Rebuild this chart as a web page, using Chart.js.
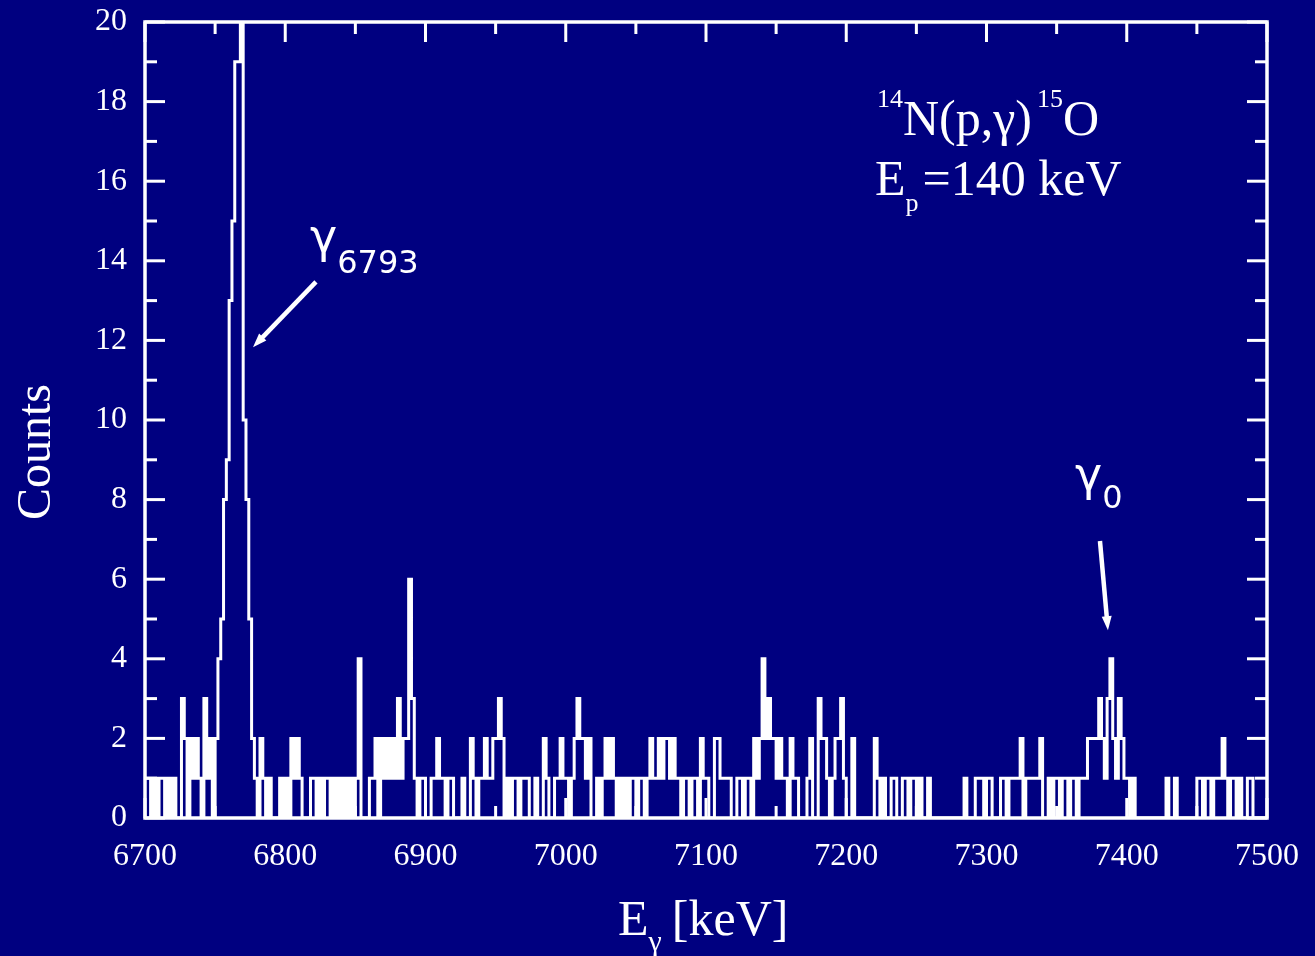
<!DOCTYPE html>
<html lang="en">
<head>
<meta charset="UTF-8">
<title>14N(p,γ)15O spectrum</title>
<script src="https://cdn.jsdelivr.net/npm/chart.js@4.4.0/dist/chart.umd.min.js"></script>
<style>
  html, body { margin: 0; padding: 0; background: #000080; }
  #wrap { width: 1315px; height: 956px; }
</style>
</head>
<body>
<div id="wrap"><canvas id="spectrum"></canvas></div>
<script>
// spectrum: 2 keV channels starting at 6700 keV
const binStart = 6700;
const binWidth = 2;
const counts = [
  1,1,0,1,0,1,1,0,1,0,    // 6700
  1,0,0,3,2,0,2,1,2,1,    // 6720
  0,3,1,2,0,2,4,5,8,9,    // 6740
  13,15,19,19,24,10,8,5,2,1, // 6760
  0,2,1,0,1,0,0,0,1,0,    // 6780
  1,0,2,1,2,1,0,0,0,1,    // 6800
  1,0,1,0,1,1,0,1,0,1,    // 6820
  0,1,0,1,0,1,4,0,0,0,    // 6840
  1,1,2,0,2,1,2,1,2,1,    // 6860
  3,1,2,2,6,3,1,0,1,1,    // 6880
  0,0,1,1,2,1,1,0,1,1,    // 6900
  0,0,0,1,0,0,2,1,0,1,    // 6920
  1,2,1,1,2,2,3,2,0,1,    // 6940
  0,1,1,0,1,1,1,0,0,1,    // 6960
  0,0,2,1,0,0,1,1,2,1,    // 6980
  1,0,1,2,3,2,2,1,2,0,    // 7000
  0,1,0,1,2,1,2,1,0,1,    // 7020
  0,1,0,1,1,0,1,1,0,1,    // 7040
  2,1,1,2,1,2,2,1,2,1,    // 7060
  1,0,1,1,0,1,1,0,2,1,    // 7080
  1,0,0,2,2,1,1,1,1,0,    // 7100
  0,1,1,0,1,1,0,2,1,2,    // 7120
  4,2,3,2,2,1,2,1,1,0,    // 7140
  2,1,1,0,0,0,1,2,0,0,    // 7160
  3,2,2,1,0,1,2,2,3,1,    // 7180
  0,0,2,0,0,0,0,0,0,0,    // 7200
  2,1,0,1,0,0,1,1,0,0,    // 7220
  1,1,0,1,1,0,1,0,0,1,    // 7240
  0,0,0,0,0,0,0,0,0,0,    // 7260
  0,0,1,0,0,0,1,1,1,0,    // 7280
  1,1,0,0,0,1,1,0,1,1,    // 7300
  1,1,2,0,1,1,1,1,1,2,    // 7320
  0,0,1,0,1,1,0,1,1,0,    // 7340
  1,1,0,1,1,1,2,2,2,2,    // 7360
  3,2,1,3,4,2,1,3,2,1,    // 7380
  1,0,1,0,0,0,0,0,0,0,    // 7400
  0,0,0,0,1,0,0,1,0,0,    // 7420
  0,0,0,0,0,1,1,0,1,1,    // 7440
  0,1,1,1,2,1,0,1,1,0,    // 7460
  1,0,0,1,1,0,0,0,0,0     // 7480
];
const energyTicks = [6700, 6800, 6900, 7000, 7100, 7200, 7300, 7400, 7500];
const energyMinor = [6750, 6850, 6950, 7050, 7150, 7250, 7350, 7450];
const countTicks = [0, 2, 4, 6, 8, 10, 12, 14, 16, 18, 20];
const countMinor = [1, 3, 5, 7, 9, 11, 13, 15, 17, 19];

const points = counts.map((c, i) => ({ x: binStart + i * binWidth, y: c }));
points.push({ x: binStart + counts.length * binWidth, y: counts[counts.length - 1] });

const navy = '#000080';
const serif = '"Liberation Serif", "Times New Roman", serif';
const sans = '"DejaVu Sans", Verdana, sans-serif';

function rich(ctx, x, y, parts) {
  let cx = x;
  parts.forEach(p => {
    ctx.font = p.font;
    ctx.fillText(p.t, cx, y + (p.dy || 0));
    cx += ctx.measureText(p.t).width + (p.gap || 0);
  });
}

function arrow(ctx, x1, y1, x2, y2) {
  const ang = Math.atan2(y2 - y1, x2 - x1);
  const head = 14, half = 5;
  ctx.lineWidth = 4.5;
  ctx.beginPath();
  ctx.moveTo(x1, y1);
  ctx.lineTo(x2 - Math.cos(ang) * head * 0.7, y2 - Math.sin(ang) * head * 0.7);
  ctx.stroke();
  ctx.beginPath();
  ctx.moveTo(x2, y2);
  ctx.lineTo(x2 - Math.cos(ang) * head + Math.sin(ang) * half, y2 - Math.sin(ang) * head - Math.cos(ang) * half);
  ctx.lineTo(x2 - Math.cos(ang) * head - Math.sin(ang) * half, y2 - Math.sin(ang) * head + Math.cos(ang) * half);
  ctx.closePath();
  ctx.fill();
}

const decor = {
  id: 'decor',
  beforeDraw(chart) {
    const ctx = chart.ctx;
    ctx.save();
    ctx.fillStyle = navy;
    ctx.fillRect(0, 0, chart.width, chart.height);
    ctx.restore();
  },
  afterDatasetsDraw(chart) {
    const { ctx, chartArea: a, scales: { x, y } } = chart;
    ctx.save();
    ctx.strokeStyle = '#fff';
    ctx.lineWidth = 3;
    const seg = (x1, y1, x2, y2) => { ctx.beginPath(); ctx.moveTo(x1, y1); ctx.lineTo(x2, y2); ctx.stroke(); };
    countTicks.forEach(v => { const p = y.getPixelForValue(v); seg(a.left, p, a.left + 20, p); seg(a.right, p, a.right - 20, p); });
    countMinor.forEach(v => { const p = y.getPixelForValue(v); seg(a.left, p, a.left + 12, p); seg(a.right, p, a.right - 12, p); });
    energyTicks.forEach(v => { const p = x.getPixelForValue(v); seg(p, a.top, p, a.top + 20); seg(p, a.bottom, p, a.bottom - 20); });
    energyMinor.forEach(v => { const p = x.getPixelForValue(v); seg(p, a.top, p, a.top + 12); seg(p, a.bottom, p, a.bottom - 12); });
    ctx.lineWidth = 3.5;
    ctx.strokeRect(a.left, a.top, a.right - a.left, a.bottom - a.top);
    ctx.restore();
  },
  afterDraw(chart) {
    const { ctx, scales: { x, y } } = chart;
    ctx.save();
    ctx.fillStyle = '#fff';
    ctx.strokeStyle = '#fff';
    ctx.textBaseline = 'alphabetic';
    ctx.textAlign = 'left';

    // reaction label
    rich(ctx, x.getPixelForValue(7221.9), y.getPixelForValue(17.16), [
      { t: '14', font: '26px ' + serif, dy: -28 },
      { t: 'N(p,γ)', font: '50px ' + serif, gap: 5 },
      { t: '15', font: '26px ' + serif, dy: -28 },
      { t: 'O', font: '50px ' + serif }
    ]);
    rich(ctx, x.getPixelForValue(7220.5), y.getPixelForValue(15.65), [
      { t: 'E', font: '50px ' + serif },
      { t: 'p', font: '26px ' + serif, dy: 16, gap: 4 },
      { t: '=140 keV', font: '50px ' + serif }
    ]);

    // peak labels
    rich(ctx, x.getPixelForValue(6817.6), y.getPixelForValue(14.22), [
      { t: 'γ', font: '46px ' + sans },
      { t: '6793', font: '32px ' + sans, dy: 21 }
    ]);
    arrow(ctx, x.getPixelForValue(6821.9), y.getPixelForValue(13.47), x.getPixelForValue(6777), y.getPixelForValue(11.83));
    rich(ctx, x.getPixelForValue(7363.1), y.getPixelForValue(8.24), [
      { t: 'γ', font: '46px ' + sans },
      { t: '0', font: '32px ' + sans, dy: 18 }
    ]);
    arrow(ctx, x.getPixelForValue(7380.9), y.getPixelForValue(6.96), x.getPixelForValue(7386.6), y.getPixelForValue(4.72));

    // axis titles
    rich(ctx, 618, 935, [
      { t: 'E', font: '50px ' + serif },
      { t: 'γ', font: '30px ' + serif, dy: 16, gap: 10 },
      { t: '[keV]', font: '50px ' + serif }
    ]);
    ctx.save();
    ctx.translate(50, 452);
    ctx.rotate(-Math.PI / 2);
    ctx.textAlign = 'center';
    ctx.font = '48px ' + serif;
    ctx.fillText('Counts', 0, 0);
    ctx.restore();
    ctx.restore();
  }
};

new Chart(document.getElementById('spectrum'), {
  type: 'line',
  data: {
    datasets: [{
      data: points,
      borderColor: '#ffffff',
      borderWidth: 3,
      stepped: true,
      fill: false,
      pointRadius: 0
    }]
  },
  options: {
    responsive: true,
    maintainAspectRatio: false,
    animation: false,
    devicePixelRatio: 1,
    layout: { padding: { top: 22, right: 48, left: 0, bottom: 0 } },
    plugins: { legend: { display: false }, tooltip: { enabled: false } },
    scales: {
      x: {
        type: 'linear',
        min: 6700,
        max: 7500,
        afterBuildTicks: s => { s.ticks = energyTicks.map(v => ({ value: v })); },
        afterFit: s => { s.height = 138; },
        grid: { display: false, drawTicks: false },
        border: { display: false },
        ticks: {
          color: '#fff',
          font: { family: serif, size: 32, lineHeight: 2.44 },
          padding: 0,
          maxRotation: 0,
          autoSkip: false,
          callback: v => String(v)
        }
      },
      y: {
        min: 0,
        max: 20,
        afterBuildTicks: s => { s.ticks = countTicks.map(v => ({ value: v })); },
        afterFit: s => { s.width = 145; },
        grid: { display: false, drawTicks: false },
        border: { display: false },
        ticks: {
          color: '#fff',
          font: { family: serif, size: 32, lineHeight: 0.1 },
          padding: 18,
          autoSkip: false,
          callback: v => String(v)
        }
      }
    }
  },
  plugins: [decor]
});
</script>
</body>
</html>
